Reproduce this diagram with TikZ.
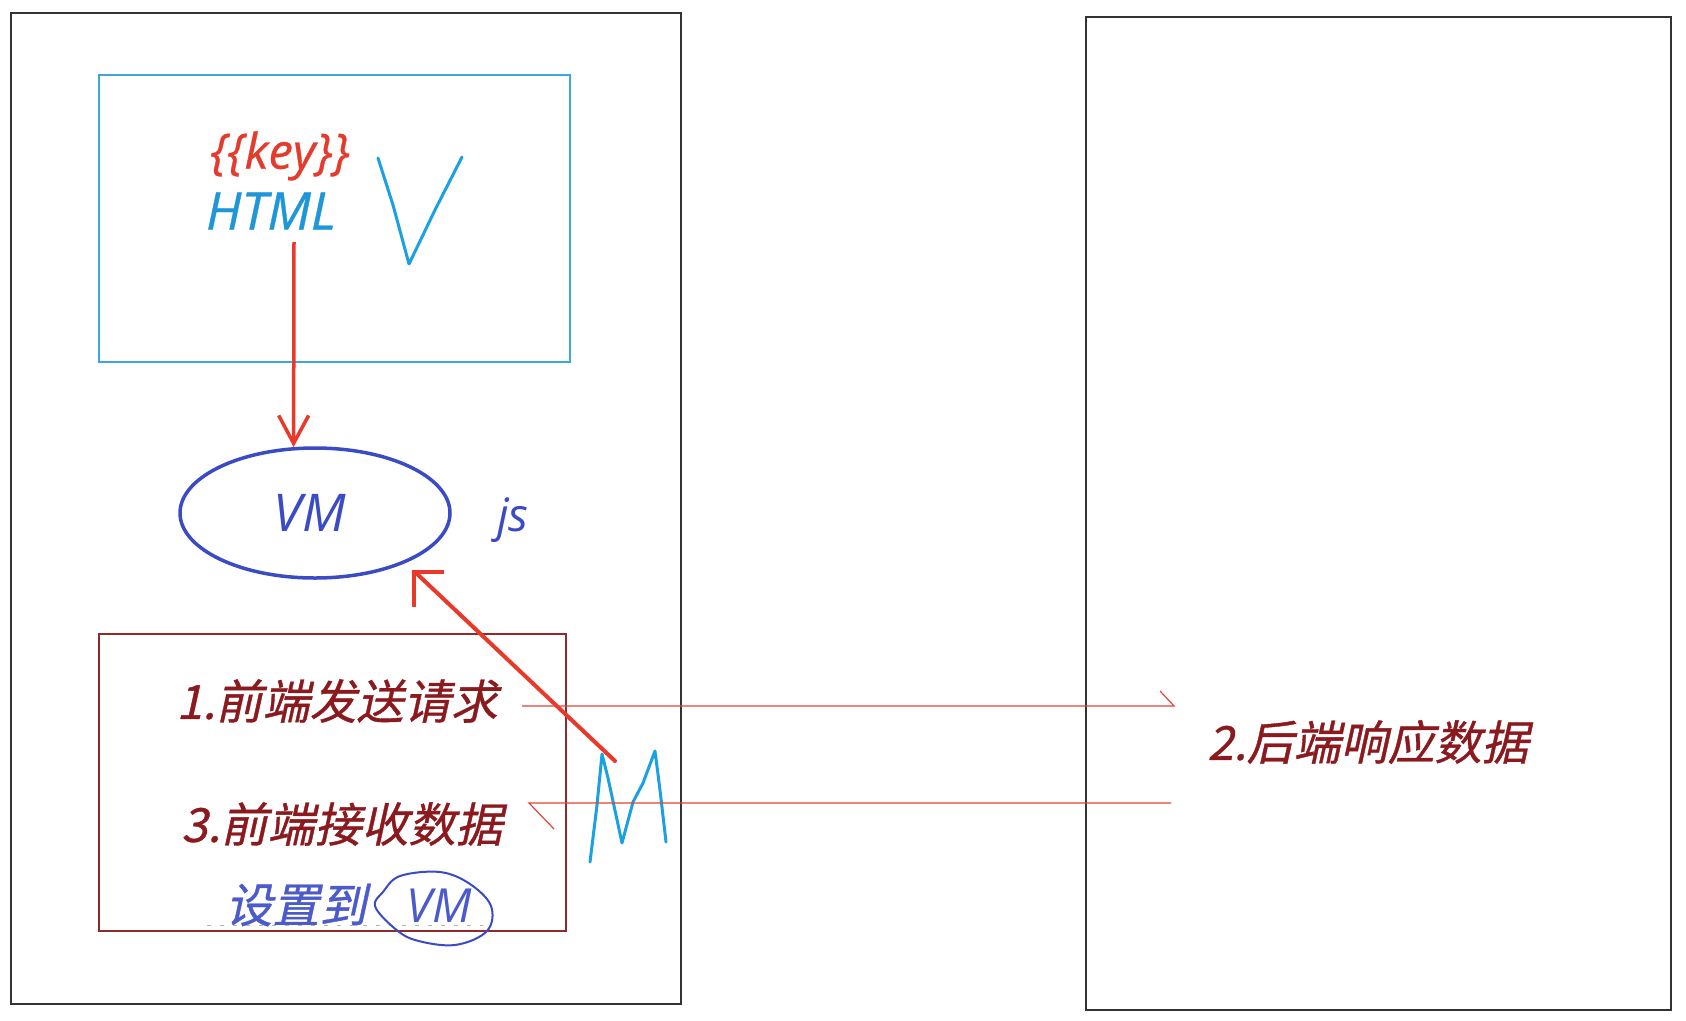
\documentclass[tikz,border=0pt]{standalone}
\usepackage{fontspec}
\setmainfont{Open Sans}
\newfontfamily\cjk{Noto Sans CJK SC}[FakeSlant=0.22, FakeBold=0.8]
\newfontfamily\latb{Open Sans}[FakeBold=0.6]
\usetikzlibrary{arrows.meta,shapes.geometric}
\definecolor{frameC}{HTML}{333333}
\definecolor{vboxC}{HTML}{3BA8DC}
\definecolor{keyC}{HTML}{E53B2C}
\definecolor{htmlC}{HTML}{1E96D8}
\definecolor{penC}{HTML}{1BA1E2}
\definecolor{vmC}{HTML}{3A4BC4}
\definecolor{arrC}{HTML}{E8392A}
\definecolor{dredC}{HTML}{8B1A1F}
\definecolor{mboxC}{HTML}{8E2A2A}
\definecolor{thinC}{HTML}{E0453A}
\definecolor{setC}{HTML}{4B5BC9}
\tikzset{
  panel/.style={draw=frameC, line width=1.5pt, inner sep=0pt, outer sep=0pt, anchor=north west},
  lbl/.style={inner sep=0pt, outer sep=0pt},
  redarrow/.style={draw=arrC, line width=3.5pt, -{Straight Barb[length=28pt,width=30pt]}},
  thinline/.style={draw=thinC, line width=1.2pt},
  pen/.style={draw=penC, line width=3pt, line join=round, line cap=round},
  txtcn/.style={lbl, font=\cjk\fontsize{47}{54}\selectfont, text=dredC},
}
\begin{document}
\begin{tikzpicture}[x=1pt,y=-1pt]
\fill[white] (0,0) rectangle (1686,1020);
\useasboundingbox (0,0) rectangle (1686,1020);

% panels
\node[panel, minimum width=670pt, minimum height=991pt] (left) at (11,13) {};
\node[panel, minimum width=585pt, minimum height=993pt] (right) at (1086,17) {};
\node[panel, draw=vboxC, minimum width=471pt, minimum height=287pt] (vbox) at (99,75) {};
\node[panel, draw=mboxC, minimum width=467pt, minimum height=297pt] (mbox) at (99,634) {};

% V box content
\node[lbl, font=\latb\itshape\fontsize{49}{52}\selectfont, text=keyC] (key) at (280,156) {\{\{key\}\}};
\node[lbl, font=\latb\itshape\fontsize{52}{56}\selectfont, text=htmlC] (html) at (271,211) {HTML};
\draw[pen] (378,158) -- (393,205) -- (409,264) -- (435,210) -- (462,157);

% VM ellipse
\node[ellipse, draw=vmC, line width=3.5pt, minimum width=270pt, minimum height=130pt, inner sep=0pt] (vm) at (315,513) {};
\node[lbl, font=\itshape\fontsize{52}{56}\selectfont, text=vmC] (vmt) at (310,513) {VM};
\node[lbl, font=\itshape\fontsize{46}{50}\selectfont, text=vmC] (js) at (513,520) {js};

% arrow HTML -> VM
\coordinate (a1) at (294,242);
\draw[redarrow] (a1) -- (vm.108);

% M
\draw[pen] (590,862) -- (597,805) -- (602,754) -- (608,778) -- (622,843) -- (633,802) -- (643,783) -- (655,751) -- (660,790) -- (666,842);
\coordinate (mtip) at (615,761);
\draw[draw=arrC, line width=4pt, line cap=round] (mtip) -- (415,572);
\draw[draw=arrC, line width=4pt, line join=miter] (444,572) -- (414,572) -- (414,607);

% texts in M box
\node[txtcn] (t1) at (337,701) {1.前端发送请求};
\node[txtcn] (t3) at (342,824) {3.前端接收数据};
\node[lbl, font=\cjk\fontsize{47}{52}\selectfont, text=setC] (set) at (296,905) {设置到};
\node[lbl, font=\itshape\fontsize{47}{52}\selectfont, text=setC] (vm2) at (439,906) {VM};
\draw[gray!60, line width=0.8pt, dash pattern=on 4pt off 9pt] (207,925) -- (483,925);
\draw[draw=vmC, line width=2pt, line join=round] plot[smooth cycle, tension=0.6] coordinates {
  (383,892) (400,876) (440,872) (470,884) (491,906) (487,931) (455,945) (415,940) (393,927) (375,906)};

% right panel text
\node[txtcn] (t2) at (1368,742) {2.后端响应数据};

% request / response lines
\coordinate (s1) at (522,706);
\coordinate (e1) at (1174,706);
\draw[thinline] (s1) -- (e1) -- ++(-14,-15);
\coordinate (s3) at (1171,803);
\coordinate (e3) at (529,803);
\draw[thinline] (s3) -- (e3) -- ++(25,26);
\end{tikzpicture}
\end{document}
